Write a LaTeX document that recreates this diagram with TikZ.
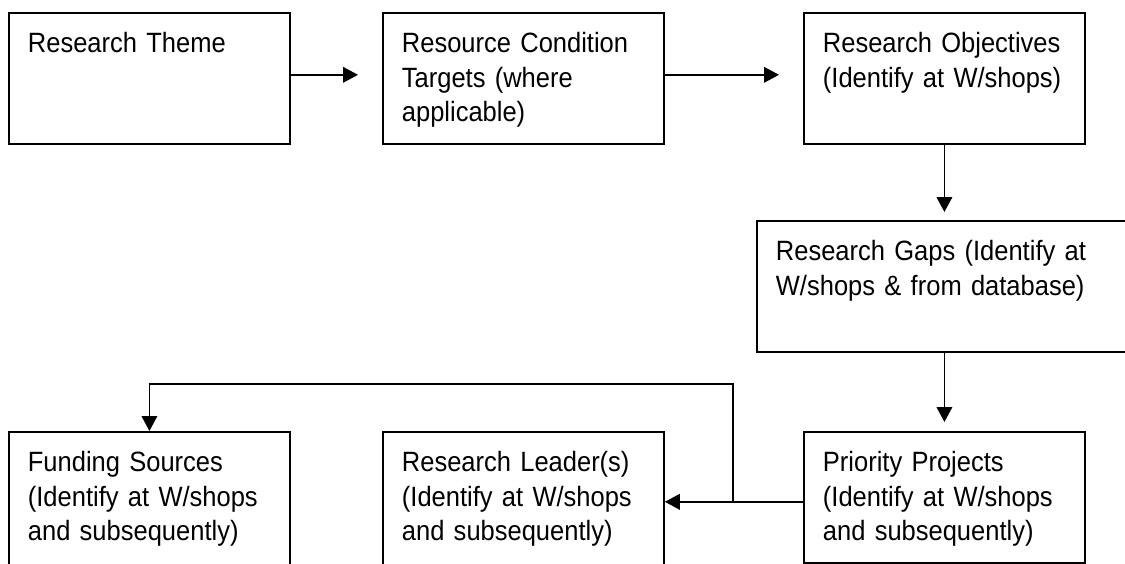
\documentclass[tikz,border=0pt]{standalone}
\usepackage{fontspec}
\usepackage{tikz}
\usetikzlibrary{arrows.meta}
\newfontfamily\boxfont[FakeStretch=0.914]{Liberation Sans}

\begin{document}
\begin{tikzpicture}[x=0.25mm,y=-0.25mm,
  box/.style={rectangle,draw,line width=1.3pt,anchor=north west,align=left,
    inner xsep=4.75mm,inner ysep=0pt,text width=60.75mm,text height=10mm,text depth=22.75mm,
    font=\boxfont\fontsize{19.85pt}{24.3pt}\selectfont},
  openbox/.style={box,text depth=30mm},
  ar/.style={-{Triangle[length=3.75mm,width=3.9mm]},line width=1.3pt}]
  \clip (0,0) rectangle (1125,563);
  \node[box]                  (theme) at (8,12)    {Research Theme};
  \node[box]                  (rct)   at (382,12)  {Resource Condition\\Targets (where\\applicable)};
  \node[box]                  (obj)   at (803,12)  {Research Objectives\\(Identify at W/shops)};
  \node[box,text width=85.5mm] (gaps) at (756,220) {Research Gaps (Identify at\\W/shops \& from database)};
  \node[box]                  (prio)  at (803,431) {Priority Projects\\(Identify at W/shops\\and subsequently)};
  \node[openbox]              (lead)  at (382,431) {Research Leader(s)\\(Identify at W/shops\\and subsequently)};
  \node[openbox]              (fund)  at (8,431)   {Funding Sources\\(Identify at W/shops\\and subsequently)};
  \draw[ar,shorten >=6mm] ([yshift=0.9mm]theme.east) -- ([yshift=0.9mm]rct.west);
  \draw[ar,shorten >=6mm] ([yshift=0.9mm]rct.east) -- ([yshift=0.9mm]obj.west);
  \draw[ar,shorten >=2mm] (obj.south) -- (obj.south |- gaps.north);
  \draw[ar,shorten >=2.25mm] (gaps.south -| prio.north) -- (prio.north);
  \draw[ar] ([yshift=-1.1mm]prio.west) -- ([yshift=-1.1mm]prio.west -| lead.east);
  \coordinate (jn) at (733,501);
  \coordinate (up) at (733,384);
  \draw[ar] (jn) -- (up) -| (fund.north);
\end{tikzpicture}
\end{document}
